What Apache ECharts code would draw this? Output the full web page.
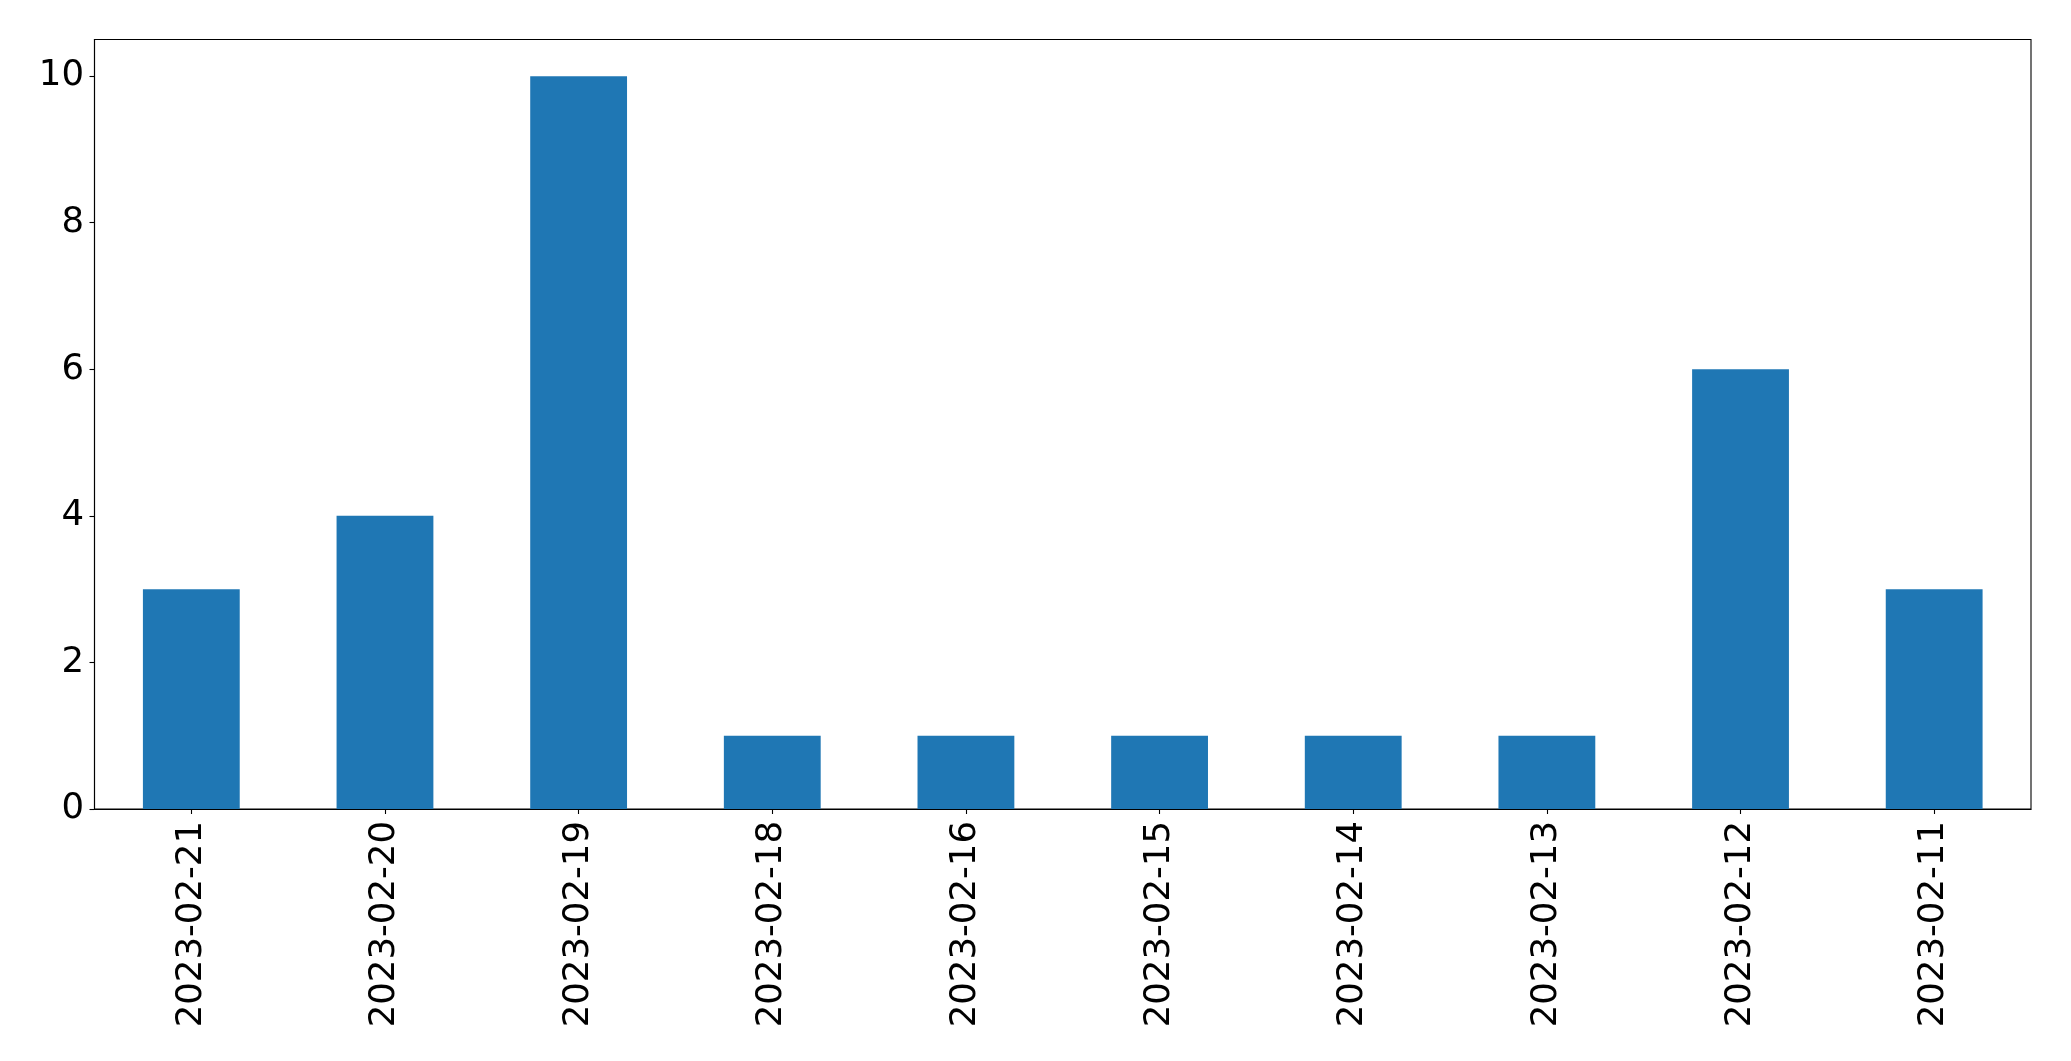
<!DOCTYPE html>
<html><head><meta charset="utf-8">
<script src="https://cdn.jsdelivr.net/npm/echarts@6/dist/echarts.min.js"></script>
<style>html,body{margin:0;padding:0;background:#fff;}#c{width:2071px;height:1061px;}</style>
</head><body><div id="c"></div>
<script>
const categories = ['2023-02-21','2023-02-20','2023-02-19','2023-02-18','2023-02-16','2023-02-15','2023-02-14','2023-02-13','2023-02-12','2023-02-11'];
const values = [3,4,10,1,1,1,1,1,6,3];
const yTicks = [0,2,4,6,8,10];

const chart = echarts.init(document.getElementById('c'), null, {renderer:'canvas'});
const font = 'DejaVu Sans';
chart.setOption({
  animation:false,
  backgroundColor:'#fff',
  grid:{left:94.5,right:40,top:39.5,bottom:252,show:true,borderColor:'#000',borderWidth:1.1,containLabel:false},
  xAxis:{type:'category',data:categories,boundaryGap:true,
    axisLine:{show:true,lineStyle:{color:'#000',width:1.1}},
    axisTick:{show:true,alignWithLabel:true,length:5,lineStyle:{color:'#000',width:1.1}},
    axisLabel:{rotate:90,fontSize:35.5,fontFamily:font,color:'#000',margin:12,interval:0},
    splitLine:{show:false}},
  yAxis:{type:'value',min:0,max:10.5,
    axisLine:{show:true,lineStyle:{color:'#000',width:1.1}},
    axisTick:{show:true,length:5,customValues:yTicks,lineStyle:{color:'#000',width:1.1}},
    axisLabel:{fontSize:35.5,fontFamily:font,color:'#000',margin:10.5,customValues:yTicks},
    splitLine:{show:false}},
  series:[{type:'bar',data:values,barWidth:'50%',itemStyle:{color:'#1f77b4'}}]
});
</script></body></html>
